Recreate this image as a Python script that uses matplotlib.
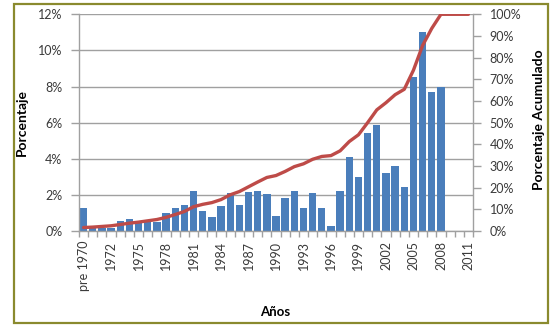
import matplotlib
matplotlib.use('Agg')
import matplotlib.pyplot as plt
import matplotlib.patches as mpatches
from matplotlib.ticker import FixedLocator, FuncFormatter

plt.rcParams['font.family'] = ['Lato', 'DejaVu Sans']

categories = ['pre 1970', '1970', '1971', '1972', '1973', '1974', '1975', '1976',
              '1977', '1978', '1979', '1980', '1981', '1982', '1983', '1984',
              '1985', '1986', '1987', '1988', '1989', '1990', '1991', '1992',
              '1993', '1994', '1995', '1996', '1997', '1998', '1999', '2000',
              '2001', '2002', '2003', '2004', '2005', '2006', '2007', '2008',
              '2009', '2010', '2011']

porcentaje = [1.3, 0.15, 0.15, 0.15, 0.57, 0.65, 0.5, 0.5, 0.5, 1.0,
              1.3, 1.45, 2.2, 1.1, 0.8, 1.4, 2.1, 1.45, 2.15, 2.2,
              2.05, 0.85, 1.8, 2.2, 1.3, 2.1, 1.3, 0.3, 2.2, 4.1,
              3.0, 5.4, 5.85, 3.2, 3.6, 2.45, 8.55, 11.0, 7.7, 8.0]

acumulado = [1.6, 1.8, 2.1, 2.4, 3.0, 3.6, 4.1, 4.7, 5.3, 6.3,
             7.6, 9.0, 11.2, 12.3, 13.1, 14.5, 16.7, 18.2, 20.4, 22.6,
             24.7, 25.6, 27.5, 29.7, 31.0, 33.1, 34.4, 34.8, 37.0, 41.3,
             44.4, 50.0, 55.9, 59.2, 62.9, 65.4, 74.2, 85.6, 93.5, 100.0,
             100.0, 100.0, 100.0]

left_ticks = [0, 2, 4, 6, 8, 10, 12]
right_ticks = [0, 10, 20, 30, 40, 50, 60, 70, 80, 90, 100]

W, H = 553, 326
fig = plt.figure(figsize=(W / 100, H / 100), dpi=100)
fig.patch.set_facecolor('white')

ax = fig.add_axes([79 / W, 1 - 231 / H, (473 - 79) / W, (231 - 14.3) / H])
ax.set_facecolor('white')

grid_c = '#A0A0A0'
txt_c = '#3A3A3A'
fs = 9

x_bar = list(range(len(porcentaje)))
x_all = list(range(len(categories)))

ax.bar(x_bar, porcentaje, width=0.8, color='#4A7EBB', edgecolor='none', zorder=2)
ax.set_xlim(-0.5, len(categories) - 0.5)
ax.set_ylim(0, 12)
ax.set_yticks(left_ticks)
ax.yaxis.set_major_formatter(FuncFormatter(lambda v, p: f'{int(v)}%'))
ax.yaxis.grid(True, color=grid_c, linewidth=1.0, zorder=0)
ax.set_axisbelow(True)

label_idx = list(range(0, len(categories), 3))
ax.set_xticks(label_idx)
ax.set_xticklabels([categories[i] for i in label_idx], rotation=90, fontsize=fs, color=txt_c)
ax.xaxis.set_minor_locator(FixedLocator([i - 0.5 for i in range(len(categories) + 1)]))
ax.tick_params(axis='x', which='major', length=0, pad=7)
ax.tick_params(axis='x', which='minor', length=4, color=grid_c, width=1)
ax.tick_params(axis='y', length=6, color=grid_c, width=1, labelsize=fs, labelcolor=txt_c, pad=6)

for s in ['top', 'right']:
    ax.spines[s].set_visible(False)
for s in ['left', 'bottom']:
    ax.spines[s].set_color(grid_c)
    ax.spines[s].set_linewidth(1.0)

ax2 = ax.twinx()
ax2.plot(x_all, acumulado, color='#BE4B48', linewidth=2.4, solid_joinstyle='round',
         solid_capstyle='round', zorder=3)
ax2.set_ylim(0, 100)
ax2.set_yticks(right_ticks)
ax2.yaxis.set_major_formatter(FuncFormatter(lambda v, p: f'{int(v)}%'))
ax2.tick_params(axis='y', length=6, color=grid_c, width=1, labelsize=fs, labelcolor=txt_c, pad=6)
for s in ['top', 'left', 'bottom']:
    ax2.spines[s].set_visible(False)
ax2.spines['right'].set_color(grid_c)
ax2.spines['right'].set_linewidth(1.0)

fig.text(22 / W, 1 - 122 / H, 'Porcentaje', rotation=90, ha='center', va='center',
         fontsize=10, fontweight='bold', color='black')
fig.text(539 / W, 1 - 120 / H, 'Porcentaje Acumulado', rotation=90, ha='center', va='center',
         fontsize=10, fontweight='bold', color='black')
fig.text(275 / W, 1 - 312 / H, 'Años', ha='center', va='center',
         fontsize=9.5, fontweight='bold', color='black')

frame = mpatches.Rectangle((14 / W, 1 - 323 / H), (548 - 14) / W, (323 - 4) / H,
                           transform=fig.transFigure, fill=False,
                           edgecolor='#8A8A2E', linewidth=1.6)
fig.patches.append(frame)

fig.savefig('out.png', dpi=100, facecolor='white')
